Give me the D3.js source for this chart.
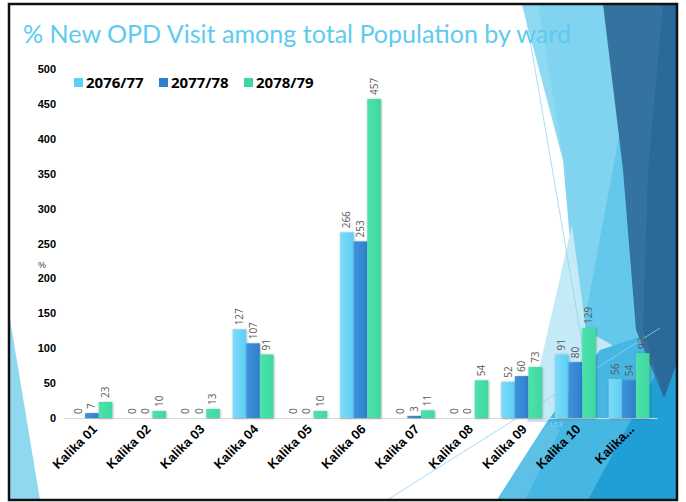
<!DOCTYPE html>
<html>
<head>
<meta charset="utf-8">
<script src="https://cdn.jsdelivr.net/npm/d3@7"></script>
<style>
  html, body { margin: 0; padding: 0; background: #fff; }
  svg { display: block; }
</style>
</head>
<body>
<svg id="chart" width="686" height="502"></svg>
<script>
// data
var categories = ["Kalika 01", "Kalika 02", "Kalika 03", "Kalika 04", "Kalika 05", "Kalika 06",
                  "Kalika 07", "Kalika 08", "Kalika 09", "Kalika 10", "Kalika..."];
var seriesNames = ["2076/77", "2077/78", "2078/79"];
var v2076 = [0, 0, 0, 127, 0, 266, 0, 0, 52, 91, 56];
var v2077 = [7, 0, 0, 107, 0, 253, 3, 0, 60, 80, 54];
var v2078 = [23, 10, 13, 91, 10, 457, 11, 54, 73, 129, 93];
var yTicks = [0, 50, 100, 150, 200, 250, 300, 350, 400, 450, 500];

var seriesValues = [v2076, v2077, v2078];
var colors = ["#5ccff5", "#2f80cc", "#3dd8a0"];
var colorsLight = ["#7fdaf8", "#3f92dc", "#4de2ab"];

var svg = d3.select('#chart');
var defs = svg.append('defs');

colors.forEach(function(c, i) {
  var gr = defs.append('linearGradient').attr('id', 'g' + i)
    .attr('x1', 0).attr('x2', 1).attr('y1', 0).attr('y2', 0);
  gr.append('stop').attr('offset', '0%').attr('stop-color', colorsLight[i]);
  gr.append('stop').attr('offset', '100%').attr('stop-color', c);
});
var f = defs.append('filter').attr('id', 'shadow')
  .attr('x', '-30%').attr('y', '-10%').attr('width', '160%').attr('height', '120%');
f.append('feDropShadow').attr('dx', 0.5).attr('dy', 0.5)
  .attr('stdDeviation', 1.2).attr('flood-color', '#000').attr('flood-opacity', 0.35);

// slide background (theme shapes)
var bg = svg.append('g');
bg.append('rect').attr('x', 9).attr('y', 4).attr('width', 668).attr('height', 496).attr('fill', '#fff');

var shapes = [
  { c: '#80d4ef', p: [[522,4],[604,4],[648,390],[583,390],[563,160]] },
  { c: '#8fdaf2', p: [[522,4],[538,4],[575,230],[563,160]] },
  { c: '#64c8ec', p: [[621,125],[645,380],[582,335]] },
  { c: '#c4e9f7', p: [[572,225],[586,330],[612,345],[585,422],[527,422]] },
  { c: '#46b6e3', p: [[497,500],[547,422],[600,350],[645,335],[677,330],[677,500]] },
  { c: '#5cc0e7', p: [[497,500],[547,422],[560,430],[525,500]] },
  { c: '#1f9fd6', p: [[588,500],[677,335],[677,500]] },
  { c: '#34739f', p: [[603,4],[677,4],[677,362],[664,398],[636,330],[623,170]] },
  { c: '#2a6a9a', p: [[663,4],[677,4],[677,362],[664,398],[643,330],[648,170]] },
  { c: '#8fd8f0', p: [[9,313],[40,500],[9,500]] }
];
bg.selectAll('polygon.sh')
  .data(shapes)
  .enter()
  .append('polygon')
  .attr('class', 'sh')
  .attr('points', function(d) { return d.p.map(function(q) { return q.join(','); }).join(' '); })
  .attr('fill', function(d) { return d.c; });

// thin theme lines
bg.append('line').attr('x1', 524).attr('y1', 5).attr('x2', 592).attr('y2', 400)
  .attr('stroke', '#8fd6f0').attr('stroke-width', 0.8);
bg.append('line').attr('x1', 387).attr('y1', 500).attr('x2', 660).attr('y2', 328)
  .attr('stroke', '#8fd6f0').attr('stroke-width', 0.8);

bg.append('text').attr('x', 549).attr('y', 427).attr('font-family', 'Open Sans, sans-serif')
  .attr('font-size', 8).attr('fill', '#9ad6f0').text('163');

// title
svg.append('text')
  .attr('x', 23).attr('y', 43)
  .attr('font-family', 'Lato, sans-serif')
  .attr('font-size', 25)
  .attr('fill', '#5dcbef')
  .attr('textLength', 548)
  .attr('lengthAdjust', 'spacingAndGlyphs')
  .text('% New OPD Visit among total Population by ward');

// scales
var x = d3.scaleBand().domain(categories).range([64, 657]).paddingInner(0.24).paddingOuter(0.14);
var xs = d3.scaleBand().domain(d3.range(seriesNames.length)).range([0, x.bandwidth()]);
var y = d3.scaleLinear().domain([0, 500]).range([418, 69]);

// y axis
var yAxis = svg.append('g')
  .attr('transform', 'translate(64,0)')
  .call(d3.axisLeft(y).tickValues(yTicks).tickSize(0).tickPadding(8));
yAxis.select('.domain').remove();
yAxis.selectAll('text')
  .attr('font-family', 'Liberation Sans, Arial, sans-serif')
  .attr('font-weight', 'bold')
  .attr('font-size', 11)
  .attr('fill', '#000');

svg.append('text')
  .attr('x', 42).attr('y', 268)
  .attr('text-anchor', 'middle')
  .attr('font-family', 'Liberation Sans, Arial, sans-serif')
  .attr('font-size', 9)
  .attr('fill', '#333')
  .text('%');

// x axis
var xAxis = svg.append('g')
  .attr('transform', 'translate(0,418)')
  .call(d3.axisBottom(x).tickSize(0).tickPadding(6));
xAxis.select('.domain').attr('stroke', '#d9d9d9').attr('stroke-width', 1.2);
xAxis.selectAll('text')
  .attr('font-family', 'Liberation Sans, Arial, sans-serif')
  .attr('font-weight', 'bold')
  .attr('font-size', 13)
  .attr('fill', '#000')
  .attr('text-anchor', 'end')
  .attr('dy', '0.3em')
  .attr('transform', 'translate(-1,5) rotate(-45)');

// bars
var groups = svg.append('g').selectAll('g')
  .data(categories)
  .enter()
  .append('g')
  .attr('transform', function(d) { return 'translate(' + x(d) + ',0)'; });

var cells = groups.selectAll('g')
  .data(function(d, i) { return seriesValues.map(function(s, k) { return { k: k, v: s[i] }; }); })
  .enter()
  .append('g');

cells.filter(function(d) { return d.v > 0; })
  .append('rect')
  .attr('x', function(d) { return xs(d.k); })
  .attr('width', xs.bandwidth())
  .attr('y', function(d) { return y(d.v); })
  .attr('height', function(d) { return y(0) - y(d.v); })
  .attr('fill', function(d) { return 'url(#g' + d.k + ')'; })
  .attr('filter', 'url(#shadow)');

cells.append('text')
  .attr('transform', function(d) {
    return 'translate(' + (xs(d.k) + xs.bandwidth() / 2) + ',' + (y(d.v) - 4) + ') rotate(-90)';
  })
  .attr('dy', '0.35em')
  .attr('font-family', 'Open Sans, sans-serif')
  .attr('font-size', 10)
  .attr('fill', '#595959')
  .text(function(d) { return d.v; });

// legend
var legend = svg.append('g').selectAll('g')
  .data(seriesNames)
  .enter()
  .append('g')
  .attr('transform', function(d, i) { return 'translate(' + [74, 159, 244][i] + ',78)'; });
legend.append('rect')
  .attr('width', 9).attr('height', 9)
  .attr('fill', function(d, i) { return colors[i]; });
legend.append('text')
  .attr('x', 12).attr('y', 10)
  .attr('font-family', 'Open Sans, sans-serif')
  .attr('font-weight', 'bold')
  .attr('font-size', 15)
  .attr('fill', '#000')
  .text(function(d) { return d; });

// slide frame
svg.append('rect').attr('x', 9).attr('y', 4).attr('width', 668).attr('height', 496)
  .attr('fill', 'none').attr('stroke', '#111').attr('stroke-width', 2.5);
</script>
</body>
</html>
